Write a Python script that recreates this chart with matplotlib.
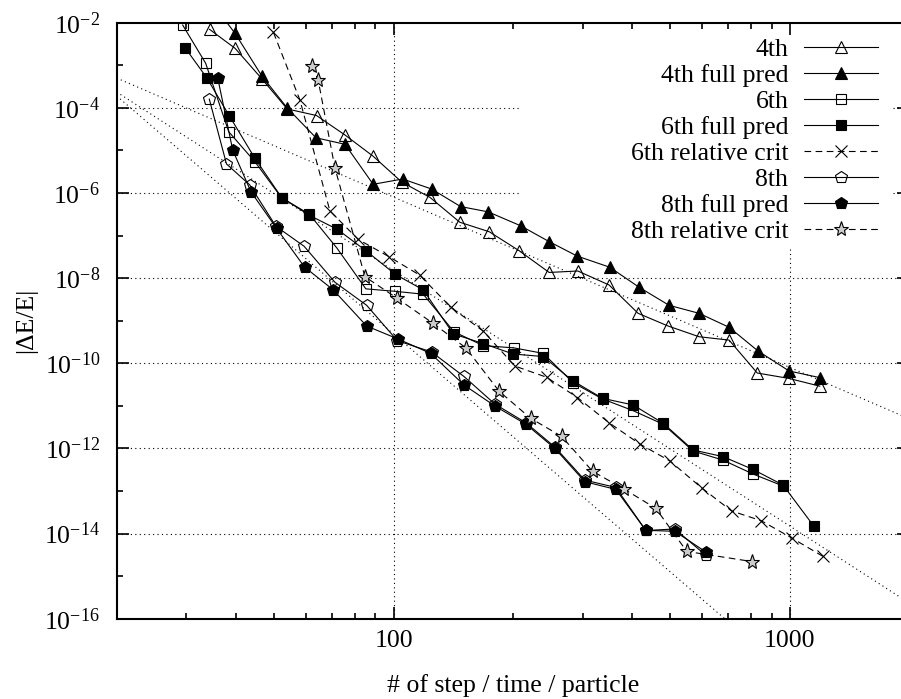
import matplotlib
matplotlib.use('Agg')
import matplotlib.pyplot as plt
import numpy as np
from matplotlib.ticker import FixedLocator, NullFormatter, FixedFormatter

plt.rcParams['font.family'] = ['Liberation Serif', 'DejaVu Serif']
plt.rcParams['mathtext.fontset'] = 'custom'
plt.rcParams['mathtext.rm'] = 'Liberation Serif'
plt.rcParams['mathtext.it'] = 'Liberation Serif:italic'
plt.rcParams['font.size'] = 18.5

# ---- data: steps/time/particle vs |dE/E| ----
# 4th order
x_4th = [34.3, 39.8, 46.5, 53.9, 63.9, 75.4, 88.8, 104.9, 123.5, 147.0, 174.3,
         207.5, 247.0, 291.8, 349.9, 414.2, 493.1, 590.4, 703.0, 827.9, 995.9, 1190.5]
e_4th = [7.0e-3, 2.5e-3, 4.8e-4, 9.4e-5, 6.6e-5, 2.3e-5, 7.3e-6, 1.8e-6, 7.9e-7, 2.05e-7, 1.23e-7,
         4.4e-8, 1.36e-8, 1.47e-8, 6.9e-9, 1.49e-9, 7.5e-10, 4.2e-10, 3.5e-10, 5.9e-11, 4.4e-11, 2.9e-11]
# 4th full pred
x_4f = [34.3, 39.8, 46.5, 53.9, 63.7, 75.4, 88.8, 105.4, 124.7, 147.6, 173.3,
        209.2, 247.0, 290.6, 351.4, 416.6, 495.9, 590.4, 703.0, 831.8, 995.9, 1190.5]
e_4f = [3.5e-2, 5.6e-3, 5.6e-4, 9.9e-5, 1.98e-5, 1.39e-5, 1.6e-6, 2.13e-6, 1.24e-6, 4.8e-7, 3.6e-7,
        1.7e-7, 7.2e-8, 3.3e-8, 1.8e-8, 6.1e-9, 2.3e-9, 1.49e-9, 7.0e-10, 1.94e-10, 6.6e-11, 4.6e-11]
# 6th order
x_6th = [29.35, 33.55, 38.35, 44.67, 52.17, 61.24, 71.8, 85.1, 100.8, 118.8, 142.0,
         168.3, 201.2, 238.5, 283.9, 336.9, 402.4, 479.0, 570.1, 678.9, 808.0, 961.7]
e_6th = [8.8e-3, 1.11e-3, 2.75e-5, 5.4e-6, 7.7e-7, 3.2e-7, 5.2e-8, 5.6e-9, 4.9e-9, 4.2e-9, 5.5e-10,
         2.6e-10, 2.3e-10, 1.71e-10, 3.5e-11, 1.45e-11, 7.7e-12, 3.7e-12, 8.7e-13, 5.3e-13, 2.5e-13, 1.31e-13]
# 6th full pred
x_6f = [29.74, 33.75, 38.48, 44.67, 52.17, 61.24, 72.1, 85.4, 101.1, 118.8, 141.5,
        168.3, 200.5, 238.5, 283.0, 336.9, 402.4, 479.0, 570.1, 678.9, 808.0, 961.7, 1149.7]
e_6f = [2.6e-3, 5.1e-4, 6.5e-5, 6.5e-6, 7.8e-7, 3.0e-7, 1.40e-7, 4.3e-8, 1.22e-8, 5.3e-9, 4.9e-10,
        2.9e-10, 1.65e-10, 1.44e-10, 3.9e-11, 1.5e-11, 1.05e-11, 3.9e-12, 9.2e-13, 6.4e-13, 3.2e-13, 1.38e-13, 1.5e-14]
# 6th relative criterion
x_6r = [49.75, 58.01, 69.06, 81.42, 97.3, 116.3, 139.3, 168.3, 202.4, 243.3, 291.0,
        349.9, 418.3, 497.9, 598.8, 712.9, 847.5, 1015.8, 1213.6]
e_6r = [5.9e-3, 1.53e-4, 3.8e-7, 8.1e-8, 3.2e-8, 1.18e-8, 2.1e-9, 5.7e-10, 8.6e-11, 4.7e-11, 1.57e-11,
        4.0e-12, 1.27e-12, 5.1e-13, 1.19e-13, 3.4e-14, 2.0e-14, 7.7e-15, 2.9e-15]
# 8th order
x_8th = [34.26, 37.86, 43.31, 50.47, 59.45, 71.11, 85.5, 102.2, 124.7, 150.5, 180.2,
         215.8, 255.3, 303.9, 363.9, 433.2, 512.7, 613.8]
e_8th = [1.6e-4, 4.8e-6, 1.56e-6, 1.65e-7, 5.6e-8, 8.0e-9, 2.3e-9, 3.4e-10, 1.84e-10, 4.9e-11, 1.1e-11,
         4.0e-12, 1.08e-12, 1.8e-13, 1.21e-13, 1.18e-14, 1.28e-14, 3.1e-15]
# 8th full pred
x_8f = [35.97, 39.25, 43.64, 50.64, 59.6, 70.41, 85.5, 102.7, 124.0, 150.5, 180.2,
        215.8, 255.3, 303.9, 363.9, 433.2, 512.7, 613.8]
e_8f = [5.1e-4, 1.02e-5, 1.07e-6, 1.48e-7, 1.82e-8, 5.3e-9, 7.5e-10, 3.7e-10, 1.71e-10, 3.1e-11, 9.9e-12,
        3.7e-12, 1.0e-12, 1.65e-13, 1.09e-13, 1.19e-14, 1.13e-14, 3.7e-15]
# 8th relative criterion
x_8r = [62.1, 64.5, 71.1, 84.65, 101.9, 125.5, 152.2, 184.7, 221.7, 265.4, 317.8,
        381.2, 459.2, 549.6, 802.8]
e_8r = [9.6e-4, 4.5e-4, 3.9e-6, 1.08e-8, 3.4e-9, 8.8e-10, 2.3e-10, 2.2e-11, 5.1e-12, 1.92e-12, 2.9e-13,
        1.12e-13, 3.9e-14, 3.8e-15, 2.2e-15]

# power-law guide lines: |dE/E| = c * (x/20)^-p
guide_p = [4, 6, 8]
guide_c = [5.0e-4, 2.35e-4, 1.9e-4]

fig = plt.figure(figsize=(9.01, 6.99), dpi=100)
ax = fig.add_axes([116.7 / 901, 80.3 / 699, 792.3 / 901, 596.0 / 699])
ax.set_xscale('log')
ax.set_yscale('log')
ax.set_xlim(20, 2000)
ax.set_ylim(1e-16, 1e-2)

# grid (gnuplot leaves the key area free)
dot = (0, (1, 3))
gkw = dict(color='black', lw=0.8, ls=dot, zorder=0.8)
key_left, key_right, key_bottom = 208, 1820, 5.4e-8
for e in [1e-4, 1e-6, 1e-8, 1e-10, 1e-12, 1e-14]:
    if e > key_bottom:
        ax.plot([20, key_left], [e, e], **gkw)
        ax.plot([key_right, 2000], [e, e], **gkw)
    else:
        ax.plot([20, 2000], [e, e], **gkw)
ax.plot([100, 100], [1e-16, 1e-2], **gkw)
ax.plot([1000, 1000], [1e-16, key_bottom], **gkw)

# guide lines
xg = np.array([20.0, 2000.0])
for p, c in zip(guide_p, guide_c):
    ax.plot(xg, c * (xg / 20.0) ** (-p), color='black', lw=0.8, ls=dot, zorder=1)

lw = 0.8
mew = 0.8
dash = (0, (6, 4))
ax.plot(x_4th, e_4th, '-', color='k', lw=lw, marker='^', ms=8.4, mfc='none', mec='k', mew=mew, label='4th')
ax.plot(x_4f, e_4f, '-', color='k', lw=lw, marker='^', ms=8.4, mfc='k', mec='k', mew=mew, label='4th full pred')
ax.plot(x_6th, e_6th, '-', color='k', lw=lw, marker='s', ms=6.6, mfc='none', mec='k', mew=mew, label='6th')
ax.plot(x_6f, e_6f, '-', color='k', lw=lw, marker='s', ms=6.6, mfc='k', mec='k', mew=mew, label='6th full pred')
ax.plot(x_6r, e_6r, color='k', lw=lw, ls=dash, marker='x', ms=8.4, mec='k', mew=mew, label='6th relative crit')
ax.plot(x_8th, e_8th, '-', color='k', lw=lw, marker='p', ms=8.6, mfc='none', mec='k', mew=mew, label='8th')
ax.plot(x_8f, e_8f, '-', color='k', lw=lw, marker='p', ms=8.6, mfc='k', mec='k', mew=mew, label='8th full pred')
ax.plot(x_8r, e_8r, color='k', lw=lw, ls=dash, marker='*', ms=11, mfc='0.8', mec='k', mew=mew, label='8th relative crit')

# ticks
ax.xaxis.set_major_locator(FixedLocator([100, 1000]))
ax.xaxis.set_major_formatter(FixedFormatter(['100', '1000']))
ax.xaxis.set_minor_locator(FixedLocator([20, 30, 40, 50, 60, 70, 80, 90, 200, 300, 400, 500, 600, 700, 800, 900, 2000]))
ax.xaxis.set_minor_formatter(NullFormatter())
yexp = [-16, -14, -12, -10, -8, -6, -4, -2]
ax.yaxis.set_major_locator(FixedLocator([10.0 ** k for k in yexp]))
ax.yaxis.set_major_formatter(FixedFormatter([r'$10^{%d}$' % k for k in yexp]))
ax.yaxis.set_minor_locator(FixedLocator([10.0 ** k for k in [-15, -13, -11, -9, -7, -5, -3]]))
ax.yaxis.set_minor_formatter(NullFormatter())
ax.tick_params(which='both', direction='in', top=True, right=True, width=1.2)
ax.tick_params(which='major', length=8.8)
ax.tick_params(which='minor', length=4.2)
ax.tick_params(axis='x', which='major', pad=8, labelsize=18.5)
ax.tick_params(axis='y', which='major', pad=12, labelsize=18.5)
for s in ax.spines.values():
    s.set_linewidth(1.5)

ax.set_xlabel('# of step / time / particle', fontsize=18.5)
ax.set_ylabel('|ΔE/E|', fontsize=18.5)
ax.xaxis.set_label_coords(0.5, -0.092)
ax.yaxis.set_label_coords(-0.101, 0.5)

ax.legend(loc='upper right', bbox_to_anchor=(885.4 / 901, 1 - 30.0 / 699), bbox_transform=fig.transFigure,
          markerfirst=False, frameon=False, handlelength=2.85, handletextpad=0.63,
          labelspacing=0.12, borderpad=0.3, borderaxespad=0, fontsize=18.5)

fig.savefig('out.png', dpi=100)
